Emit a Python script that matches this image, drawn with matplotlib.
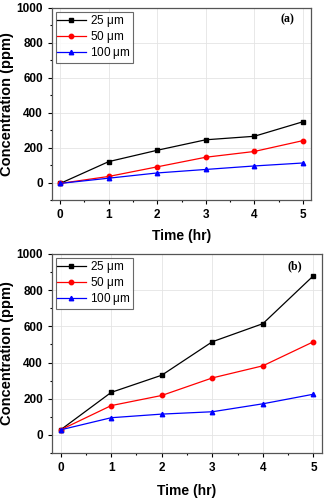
import matplotlib
matplotlib.use('Agg')
import matplotlib.pyplot as plt
from matplotlib.ticker import MultipleLocator

time_hr = [0, 1, 2, 3, 4, 5]
labels = ['25 $\\mu$m', '50 $\\mu$m', '100 $\\mu$m']

# panel (a)
a_25 = [-5, 120, 185, 245, 265, 348]
a_50 = [-5, 35, 90, 145, 178, 240]
a_100 = [-5, 25, 55, 75, 95, 112]

# panel (b)
b_25 = [28, 235, 330, 515, 615, 880]
b_50 = [28, 162, 218, 315, 382, 515]
b_100 = [28, 95, 115, 128, 172, 225]

plt.rcParams['font.family'] = 'Liberation Sans'
plt.rcParams['mathtext.fontset'] = 'custom'
plt.rcParams['mathtext.rm'] = 'Liberation Sans'
plt.rcParams['mathtext.it'] = 'Liberation Sans'

fig = plt.figure(figsize=(3.25, 5), dpi=100)
ax1 = fig.add_axes([0.16, 0.60, 0.797, 0.384])
ax2 = fig.add_axes([0.16, 0.094, 0.831, 0.398])

styles = [('k', 's'), ('r', 'o'), ('b', '^')]


def draw(ax, series, tag, tag_xy):
    for ys, (c, m), lab in zip(series, styles, labels):
        ax.plot(time_hr, ys, color=c, marker=m, markersize=3.2, lw=0.9, label=lab)
    ax.set_xlim(-0.17, 5.17)
    ax.set_ylim(-100, 1000)
    ax.xaxis.set_major_locator(MultipleLocator(1))
    ax.xaxis.set_minor_locator(MultipleLocator(0.5))
    ax.yaxis.set_major_locator(MultipleLocator(200))
    ax.yaxis.set_minor_locator(MultipleLocator(100))
    ax.grid(True, color='#e4e4e4', lw=0.6)
    ax.set_axisbelow(True)
    ax.tick_params(which='both', direction='out', labelsize=8.5, width=0.8)
    ax.tick_params(which='major', length=3)
    ax.tick_params(which='minor', length=1.5)
    for lbl in ax.get_xticklabels() + ax.get_yticklabels():
        lbl.set_fontweight('bold')
    for sp in ax.spines.values():
        sp.set_color('#555555')
        sp.set_linewidth(0.9)
    ax.set_xlabel('Time (hr)', fontsize=10, fontweight='bold', labelpad=6)
    ax.set_ylabel('Concentration (ppm)', fontsize=10.5, fontweight='bold', labelpad=2)
    leg = ax.legend(loc='upper left', fontsize=8.5, frameon=True, fancybox=False,
                    borderpad=0.15, labelspacing=0.0, handlelength=2.4,
                    handletextpad=0.4, borderaxespad=0.3)
    leg.get_frame().set_edgecolor('#444444')
    leg.get_frame().set_linewidth(0.8)
    ax.text(tag_xy[0], tag_xy[1], tag, transform=ax.transAxes, fontsize=8.5,
            fontweight='bold', family='Liberation Serif', ha='center', va='center')


draw(ax1, [a_25, a_50, a_100], '(a)', (0.91, 0.94))
draw(ax2, [b_25, b_50, b_100], '(b)', (0.90, 0.94))
ax2.xaxis.labelpad = 7

fig.savefig('out.png', dpi=100)
